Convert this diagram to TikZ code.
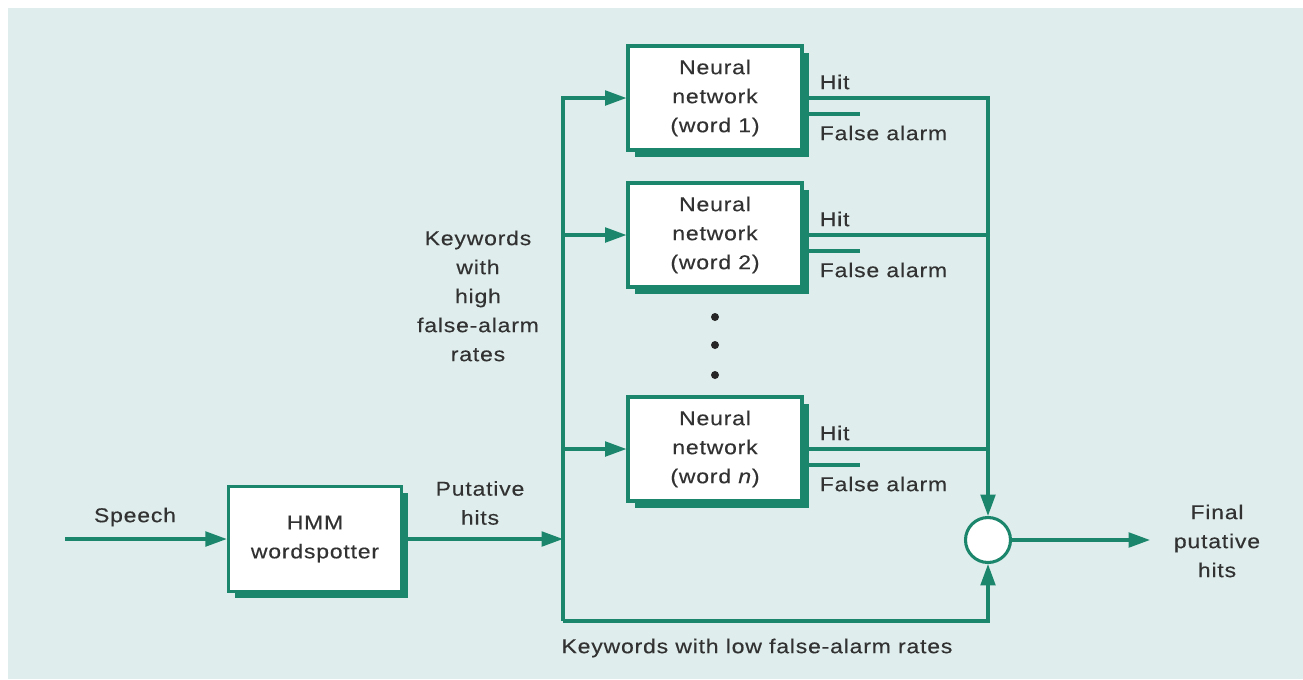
\documentclass[tikz,border=0pt]{standalone}
\usepackage{fontspec}
\setmainfont{Liberation Sans}[FakeStretch=1.15, LetterSpace=4, FakeBold=0.3]
\usetikzlibrary{arrows.meta,shadows,calc}
\definecolor{tgreen}{RGB}{28,134,108}
\definecolor{bgc}{RGB}{223,238,237}
\definecolor{txt}{RGB}{50,50,50}
\begin{document}
\begin{tikzpicture}[x=0.75pt,y=-0.75pt,
  font=\fontsize{15}{21.75}\selectfont, text=txt,
  conn/.style={draw=tgreen, line width=2.3pt},
  arr/.style={conn, -{Triangle[length=16pt,width=11pt]}},
  blk/.style={draw=tgreen, line width=2.3pt, fill=white, align=center, inner sep=0pt,
    general shadow={fill=tgreen, shadow xshift=5pt, shadow yshift=-5pt}},
  nnbox/.style={blk, minimum width=130.5pt, minimum height=78pt},
  lbl/.style={align=center, inner sep=0pt}
]
\fill[white] (0,0) rectangle (1303,679);
\fill[bgc] (8,8) rectangle (1303,679);
\useasboundingbox (0,0) rectangle (1303,679);

% blocks
\node[blk, minimum width=130pt, minimum height=79pt] (hmm) at (315,539) {HMM\\wordspotter};
\node[nnbox] (nn1) at (715,98) {Neural\\network\\(word 1)};
\node[nnbox] (nn2) at (715,235) {Neural\\network\\(word 2)};
\node[nnbox] (nn3) at (715,449) {Neural\\network\\(word \textit{n})};
\node[circle, draw=tgreen, line width=2.3pt, fill=white, minimum size=33.75pt, inner sep=0pt] (sum) at (988,540) {};

% dots
\fill[black!85] (715,317) circle (3pt);
\fill[black!85] (715,345) circle (3pt);
\fill[black!85] (715,375) circle (3pt);

% coordinates
\coordinate (sp) at (65,539);
\coordinate (bus) at (563,539);
\coordinate (bb) at (563,621);
\coordinate (out) at (1150,540);

% connectors
\draw[arr] (sp) -- (hmm.west);
\draw[arr] (hmm.east) -- (bus);
\draw[arr] (bb) |- (nn1.west);
\draw[arr] (nn2.west -| bb) -- (nn2.west);
\draw[arr] (nn3.west -| bb) -- (nn3.west);
\draw[arr] (bb) -| (sum.south);
\draw[arr] (nn1.east) -| (sum.north);
\draw[conn] (nn2.east) -- (nn2.east -| sum);
\draw[conn] (nn3.east) -- (nn3.east -| sum);
\draw[conn] ([yshift=-12pt]nn1.east) -- ++(56,0);
\draw[conn] ([yshift=-12pt]nn2.east) -- ++(56,0);
\draw[conn] ([yshift=-12pt]nn3.east) -- ++(56,0);
\draw[arr] (sum.east) -- (out);

% labels
\node[lbl] (lsp) at (135,517) {Speech};
\node[lbl] (lput) at (480,503) {Putative\\hits};
\node[lbl] (lhigh) at (478,296) {Keywords\\with\\high\\false-alarm\\rates};
\node[lbl] (llow) at (757,648) {Keywords with low false-alarm rates};
\node[lbl] (lfin) at (1217,541) {Final\\putative\\hits};
\foreach \n in {nn1,nn2,nn3}{
  \node[lbl, anchor=west] at ($(\n.east)+(16,-16)$) {Hit};
  \node[lbl, anchor=west] at ($(\n.east)+(16,35)$) {False alarm};
}
\end{tikzpicture}
\end{document}
